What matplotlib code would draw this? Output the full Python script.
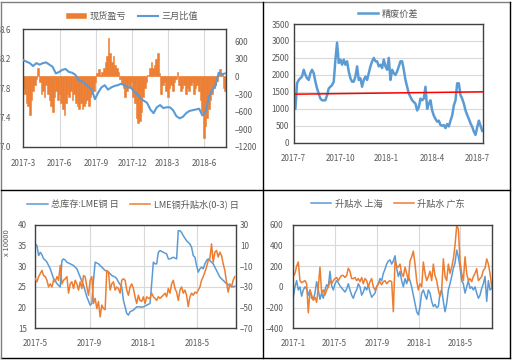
import numpy as np
import pandas as pd
import matplotlib
matplotlib.use("Agg")
import matplotlib.pyplot as plt
import matplotlib.dates as mdates
from matplotlib.lines import Line2D
from matplotlib.ticker import FixedLocator, FuncFormatter

plt.rcParams['font.family'] = ['Noto Sans CJK SC', 'DejaVu Sans']

# ---------------- data ----------------
# Panel 1: 现货盈亏 (bars, right axis) and 三月比值 (line, left axis)
p1_start, p1_end = '2017-03-01', '2018-07-24'
p1_ratio = [8.18, 8.16, 8.14, 8.10, 8.14, 8.12, 8.14, 8.15, 8.12, 8.09, 8.00, 8.02,
            8.05, 8.06, 8.02, 8.01, 7.98, 7.91, 7.89, 7.86, 7.82, 7.78, 7.65, 7.74,
            7.81, 7.84, 7.78, 7.81, 7.83, 7.84, 7.86, 7.84, 7.81, 7.81, 7.75, 7.72,
            7.66, 7.63, 7.60, 7.51, 7.46, 7.54, 7.57, 7.53, 7.54, 7.54, 7.50, 7.42,
            7.39, 7.41, 7.46, 7.49, 7.50, 7.51, 7.52, 7.43, 7.48, 7.68, 7.77, 7.83,
            8.01, 7.99, 8.00]
p1_pnl = [-200, -300, -450, -500, -650, -400, -250, -150, -50, 150, -100, -300,
          -250, -350, -150, -300, -400, -500, -600, -350, -250, -400, -300, -450,
          -550, -650, -450, -300, -350, -250, -400, -300, -450, -500, -550, -450,
          -550, -500, -450, -400, -500, -350, -300, -250, -100, 50, 120, 30,
          80, 150, 250, 350, 650, 400, 250, 350, 200, 150, 80, -50,
          -120, -200, -350, -250, -150, -200, -100, -350, -450, -700, -800, -750,
          -600, -350, -200, -100, 20, 150, 250, 150, 200, 300, 400, 50,
          -300, -150, -100, -250, -350, -200, -150, -250, -100, -50, 80, -150,
          -250, -200, -150, -300, -200, -250, -150, -100, -300, -200, -150, -250,
          -400, -600, -1050, -850, -700, -550, -400, -300, -200, -150, -80, 50,
          120, 50, -200, -250]

# Panel 2: 精废价差
p2_start, p2_end = '2017-07-01', '2018-07-10'
p2_spread = [1400, 1000, 1750, 1850, 1900, 1950, 2150, 2000, 1900, 1850, 2050, 2150,
             2050, 1800, 1600, 1450, 1300, 1250, 1250, 1250, 1400, 1600, 1650, 1700,
             1800, 2440, 2950, 2350, 2450, 2300, 2450, 2300, 2400, 2100, 1900, 1800,
             1800, 1950, 2250, 1850, 1900, 1650, 1850, 1950, 1850, 2050, 2250, 2400,
             2500, 2400, 2400, 2250, 2300, 2200, 2450, 2250, 2150, 2500, 1850, 2150,
             2050, 2000, 2100, 2250, 2400, 2400, 2150, 1850, 1650, 1450, 1350, 1250,
             1200, 1150, 950, 1050, 1300, 1250, 1300, 1650, 1000, 1150, 1250, 950,
             800, 700, 620, 650, 520, 500, 520, 430, 550, 480, 650, 800,
             1100, 1250, 1750, 1750, 1400, 1300, 1150, 950, 820, 700, 570, 470,
             330, 230, 450, 650, 500, 350]
p2_trend = [1430, 1500]

# Panel 3: 总库存:LME铜 日 (left, x10000) and LME铜升贴水(0-3) 日 (right)
p3_start, p3_end = '2017-05-01', '2018-07-26'
p3_stock = [35.4, 35.0, 32.6, 33.4, 32.8, 31.8, 31.5, 31.0, 30.2, 29.4, 28.2, 27.0,
            26.5, 25.8, 25.4, 25.0, 31.4, 31.8, 31.5, 31.0, 30.8, 30.6, 30.4, 30.2,
            29.8, 29.4, 28.4, 27.4, 26.4, 25.4, 24.0, 22.6, 21.6, 20.6, 21.0, 26.6,
            31.0, 30.8, 30.6, 30.2, 29.8, 29.4, 29.0, 28.8, 28.6, 28.2, 27.8, 27.6,
            27.4, 27.0, 26.2, 25.6, 25.0, 21.8, 20.2, 18.6, 18.2, 19.0, 19.2, 19.4,
            19.8, 20.2, 20.2, 20.2, 20.1, 20.2, 20.4, 20.6, 20.8, 21.0, 25.8, 31.0,
            30.6, 30.6, 33.4, 33.8, 33.6, 33.4, 33.2, 33.0, 31.8, 31.8, 32.0, 32.2,
            32.0, 31.8, 38.6, 38.6, 38.2, 37.4, 36.8, 36.2, 35.8, 35.4, 34.6, 32.6,
            32.2, 30.2, 28.6, 29.4, 29.8, 29.4, 30.6, 31.4, 31.8, 31.4, 31.0, 30.6,
            29.8, 29.0, 28.2, 27.4, 27.0, 26.6, 26.2, 25.8, 25.6, 25.4, 25.2, 25.0,
            25.2]
p3_premium = [-22, -25, -20, -17, -14, -19, -20, -23.5, -30, -27, -30, -23.5,
              -25, -20, -23.5, -9, -27, -23.5, -22, -20, -36, -27, -25, -31.5,
              -23.5, -27, -33, -25, -31.5, -19, -20, -30, -38, -23.5, -20, -46,
              -41, -51, -44, -59, -47.5, -51, -52, -14, -15.5, -33, -27, -25,
              -33, -30, -31.5, -36, -23.5, -22, -23.5, -33, -38, -30, -27, -31.5,
              -39.5, -46, -38, -43, -44, -39.5, -46, -39.5, -41, -41, -36, -39.5,
              -41, -43, -39.5, -41, -39.5, -38, -36, -39.5, -31.5, -36, -27, -23.5,
              -31.5, -35, -43, -33, -30, -36, -33, -38, -49, -39.5, -36, -38,
              -35, -36, -33, -30, -23.5, -20, -15.5, -10.7, -4.3, -2.7, 11.7, -6,
              3.7, 5.3, -1, 3.7, 0.5, -7.5, -14, -25, -35, -27, -30, -23.5,
              -20]

# Panel 4: 升贴水 上海 / 升贴水 广东
p4_start, p4_end = '2017-01-01', '2018-08-01'
p4_sh = [-100, 0, 60, -30, 0, -90, -30, 0, -20, -80, -30, -110,
         -120, -60, 50, -30, -120, -60, -110, -30, 20, 0, 150, 10,
         -30, 30, 60, 40, 10, -10, -30, -50, -20, 30, -30, -80,
         -110, -60, -30, 30, 0, -80, -50, 0, -30, 20, -50, -100,
         -80, -60, 0, 30, 80, 60, 130, 170, 220, 250, 260, 220,
         250, 300, 180, 100, 150, 60, 0, 80, 30, 100, 60, 0,
         -80, -160, -240, -270, -190, -60, -30, -80, -120, -30, -60, -140,
         -190, -170, -200, -190, -60, -30, -140, -240, -160, -30, 30, 100,
         180, 230, 355, 290, 190, 60, 30, -60, 0, 60, -15, 0,
         -30, 0, -60, -110, -80, -15, 30, 100, -140, 60, -30, -15]
p4_gd = [100, 130, 200, 240, 60, 40, 50, 60, 30, -250, -30, -80,
         -130, -100, -150, 0, 190, -60, -30, -80, -30, 0, 60, 30,
         60, 80, 90, 60, 90, 110, 110, 90, 110, 180, 150, 80,
         80, 90, 60, 80, 50, 90, 30, 80, 60, 0, 50, 80,
         0, -30, 0, 30, 50, 20, 50, 60, 30, 50, 60, 50,
         -240, 250, 200, 190, 220, 130, 100, 190, 130, 60, 250, 290,
         345, 220, 60, -30, 30, 0, 240, 130, 60, 100, 150, 60,
         220, 110, 60, -30, -90, -30, 270, 100, 60, 220, 130, 190,
         270, 400, 590, 560, 250, 130, 60, 290, 130, 60, 80, 50,
         100, 130, 175, 60, 80, 100, 160, 180, 270, 220, 130, 0]

# ---------------- style ----------------
BLUE = '#5B9BD5'
ORANGE = '#ED7D31'
TXT = '#595959'
GRID = '#D9D9D9'
FRAME = '#404040'
FS = 5.8
LFS = 6.6

W, H = 513, 362
fig = plt.figure(figsize=(W / 100, H / 100), dpi=100)
fig.patch.set_facecolor('white')


def rect(l, t, r, b):
    return [l / W, 1 - b / H, (r - l) / W, (b - t) / H]


def ym_fmt(x, pos=None):
    d = mdates.num2date(x)
    return f"{d.year}-{d.month}"


def style_ax(ax, xgrid=True, ygrid=True, xpad=8):
    for s in ax.spines.values():
        s.set_color(FRAME)
        s.set_linewidth(1.0)
    ax.tick_params(axis='both', length=0, labelsize=FS, colors=TXT)
    ax.tick_params(axis='x', pad=xpad)
    ax.set_axisbelow(True)
    if xgrid:
        ax.xaxis.grid(True, color=GRID, linewidth=0.8)
    if ygrid:
        ax.yaxis.grid(True, color=GRID, linewidth=0.8)


def date_axis(ax, start, end, months):
    ax.set_xlim(pd.Timestamp(start), pd.Timestamp(end))
    ax.xaxis.set_major_locator(mdates.MonthLocator(bymonth=months, bymonthday=1))
    ax.xaxis.set_major_formatter(FuncFormatter(ym_fmt))


# ---------------- panel 1 ----------------
ax1 = fig.add_axes(rect(23.3, 29.3, 226, 147))
ax1b = ax1.twinx()
d1 = pd.date_range(p1_start, p1_end, periods=len(p1_pnl))
w1 = (d1[1] - d1[0]).days + (d1[1] - d1[0]).seconds / 86400
bars = ax1.bar(d1, p1_pnl, width=w1, color=ORANGE, edgecolor=ORANGE,
               linewidth=0.4, label='现货盈亏')
ax1.set_ylim(-1200, 800)
ax1.yaxis.set_major_locator(FixedLocator([-1200, -900, -600, -300, 0, 300, 600]))
style_ax(ax1, xgrid=True, ygrid=False, xpad=9)
date_axis(ax1, '2017-03-01', '2018-07-26', [3, 6, 9, 12])
ax1.yaxis.tick_right()
ax1.tick_params(axis='y', pad=6, length=0)

d1r = pd.date_range(p1_start, p1_end, periods=len(p1_ratio))
ln1, = ax1b.plot(d1r, p1_ratio, color=BLUE, linewidth=1.5, label='三月比值')
ax1b.set_ylim(7.0, 8.6)
ax1b.yaxis.set_major_locator(FixedLocator([7.0, 7.4, 7.8, 8.2, 8.6]))
ax1b.yaxis.set_major_formatter(FuncFormatter(lambda v, p: f"{v:.1f}"))
ax1b.yaxis.tick_left()
for s in ax1b.spines.values():
    s.set_visible(False)
ax1b.tick_params(axis='y', length=0, labelsize=FS, colors=TXT, pad=9)
date_axis(ax1b, '2017-03-01', '2018-07-26', [3, 6, 9, 12])
fig.legend([bars, ln1], ['现货盈亏', '三月比值'], loc='center',
           bbox_to_anchor=(132 / W, 1 - 16 / H), ncol=2, frameon=False,
           fontsize=LFS, labelcolor=TXT, handlelength=2.2, handleheight=0.6,
           columnspacing=1.2, handletextpad=0.4)

# ---------------- panel 2 ----------------
ax2 = fig.add_axes(rect(293.7, 24, 482.7, 142.7))
d2 = pd.date_range(p2_start, p2_end, periods=len(p2_spread))
ln2, = ax2.plot(d2, p2_spread, color=BLUE, linewidth=1.8)
ax2.plot([d2[0], d2[-1]], p2_trend, color='#FF0000', linewidth=1.1)
ax2.set_ylim(0, 3500)
ax2.yaxis.set_major_locator(FixedLocator(list(range(0, 3501, 500))))
style_ax(ax2, xgrid=False, ygrid=True, xpad=8)
ax2.tick_params(axis='y', pad=3)
date_axis(ax2, '2017-07-01', '2018-07-11', [1, 4, 7, 10])
fig.legend([ln2], ['精废价差'], loc='center', bbox_to_anchor=(388 / W, 1 - 14 / H),
           frameon=False, fontsize=LFS, labelcolor=TXT, handlelength=2.2,
           handletextpad=0.4)

# ---------------- panel 3 ----------------
ax3 = fig.add_axes(rect(35.3, 225, 235.7, 328.3))
ax3b = ax3.twinx()
d3 = pd.date_range(p3_start, p3_end, periods=len(p3_stock))
ln3a, = ax3.plot(d3, p3_stock, color=BLUE, linewidth=1.1)
ax3.set_ylim(15, 40)
ax3.yaxis.set_major_locator(FixedLocator(list(range(15, 41, 5))))
style_ax(ax3, xgrid=True, ygrid=True, xpad=8)
ax3.tick_params(axis='y', pad=6)
date_axis(ax3, '2017-05-01', '2018-07-28', [1, 5, 9])
ln3b, = ax3b.plot(d3, p3_premium, color=ORANGE, linewidth=1.1)
ax3b.set_ylim(-70, 30)
ax3b.yaxis.set_major_locator(FixedLocator(list(range(-70, 31, 20))))
for s in ax3b.spines.values():
    s.set_visible(False)
ax3b.tick_params(axis='y', length=0, labelsize=FS, colors=TXT, pad=3)
fig.text(7 / W, 1 - 243 / H, 'x 10000', rotation=90, ha='center', va='center',
         fontsize=5.5, color=TXT)
fig.legend([ln3a, ln3b], ['总库存:LME铜 日', 'LME铜升贴水(0-3) 日'], loc='center',
           bbox_to_anchor=(133 / W, 1 - 204 / H), ncol=2, frameon=False,
           fontsize=LFS, labelcolor=TXT, handlelength=2.2, columnspacing=1.2,
           handletextpad=0.4)

# ---------------- panel 4 ----------------
ax4 = fig.add_axes(rect(293.3, 224.7, 491.7, 328.3))
d4 = pd.date_range(p4_start, p4_end, periods=len(p4_sh))
ln4a, = ax4.plot(d4, p4_sh, color=BLUE, linewidth=1.1)
ln4b, = ax4.plot(d4, p4_gd, color=ORANGE, linewidth=1.1)
ax4.set_ylim(-400, 600)
ax4.yaxis.set_major_locator(FixedLocator(list(range(-400, 601, 200))))
style_ax(ax4, xgrid=True, ygrid=True, xpad=8)
ax4.tick_params(axis='y', pad=7)
date_axis(ax4, '2017-01-01', '2018-08-01', [1, 5, 9])
fig.legend([ln4a, ln4b], ['升贴水 上海', '升贴水 广东'], loc='center',
           bbox_to_anchor=(388 / W, 1 - 204 / H), ncol=2, frameon=False,
           fontsize=LFS, labelcolor=TXT, handlelength=2.2, columnspacing=1.2,
           handletextpad=0.4)

# ---------------- frame lines ----------------
def fline(x0, y0, x1, y1, color='black', lw=1.0):
    fig.add_artist(Line2D([x0 / W, x1 / W], [1 - y0 / H, 1 - y1 / H],
                          color=color, linewidth=lw, transform=fig.transFigure))

fline(1, 2, 510, 2, color='#7f7f7f')
fline(510, 2, 510, 358)
fline(1, 358, 510, 358)
fline(1, 2, 1, 358, color='#7f7f7f')
fline(263, 2, 263, 358)
fline(1, 190, 510, 190)

fig.savefig('out.png', dpi=100)
